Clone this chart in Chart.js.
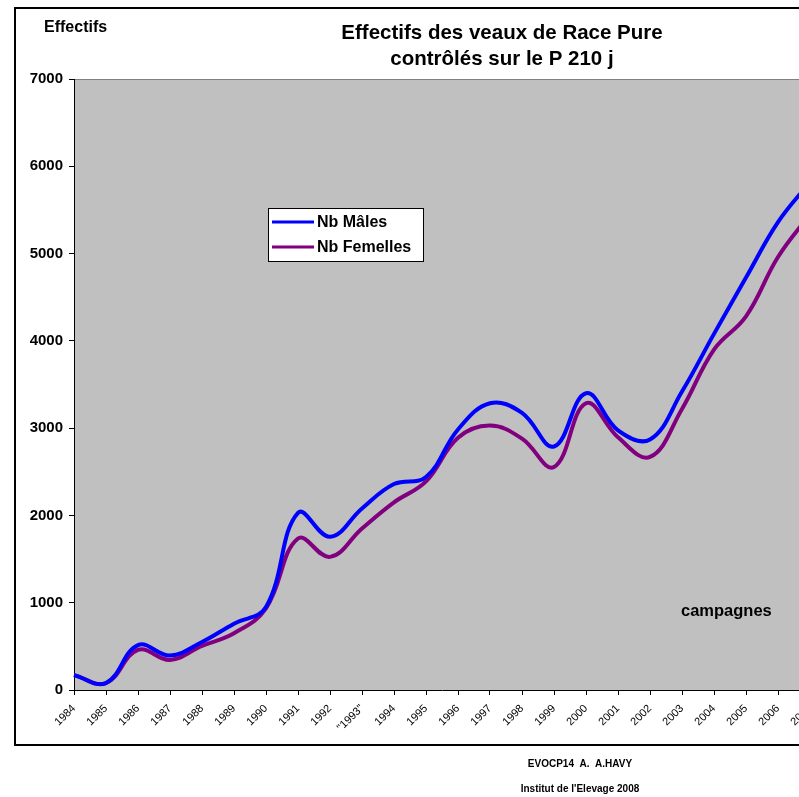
<!DOCTYPE html>
<html>
<head>
<meta charset="utf-8">
<script src="https://cdn.jsdelivr.net/npm/chart.js@4"></script>
<style>
    html, body { margin: 0; padding: 0; background: #fff; overflow: hidden; }
    #wrap { position: absolute; left: 0; top: 0; width: 830px; height: 797px; }
</style>
</head>
<body>
<div id="wrap"><canvas id="myChart" width="830" height="797"></canvas></div>
<script>
// campagnes
var years = ['1984', '1985', '1986', '1987', '1988', '1989', '1990', '1991', '1992', '"1993"',
    '1994', '1995', '1996', '1997', '1998', '1999', '2000', '2001', '2002', '2003',
    '2004', '2005', '2006', '2007'];

// Nb Mâles
var males = [170, 80, 515, 395, 550, 760, 950, 2030, 1755, 2080,
    2360, 2440, 2985, 3285, 3175, 2790, 3400, 2975, 2870, 3420,
    4080, 4725, 5360, 5820];

// Nb Femelles
var females = [170, 80, 460, 345, 505, 650, 935, 1735, 1525, 1850,
    2150, 2390, 2890, 3030, 2880, 2555, 3285, 2895, 2670, 3220,
    3900, 4280, 4960, 5450];

var yTicks = [0, 1000, 2000, 3000, 4000, 5000, 6000, 7000];

var fontName = '"Liberation Sans", Arial, sans-serif';

// background, border, texts and legend box
var decorPlugin = {
    id: 'decor',
    beforeDraw: function (chart) {
        var c = chart.ctx;
        var a = chart.chartArea;
        c.save();
        c.fillStyle = '#c0c0c0';
        c.fillRect(a.left, a.top, a.right - a.left, a.bottom - a.top);
        c.strokeStyle = '#808080';
        c.lineWidth = 1;
        c.beginPath();
        c.moveTo(a.left, a.top + 0.5);
        c.lineTo(a.right, a.top + 0.5);
        c.stroke();
        c.restore();
    },
    afterDraw: function (chart) {
        var c = chart.ctx;
        c.save();
        // outer frame
        c.strokeStyle = '#000';
        c.lineWidth = 2;
        c.strokeRect(15, 8, 900, 737);

        c.fillStyle = '#000';
        c.textBaseline = 'middle';
        c.textAlign = 'left';
        c.font = 'bold 16px ' + fontName;
        c.fillText('Effectifs', 44, 28);

        c.textAlign = 'center';
        c.font = 'bold 20.5px ' + fontName;
        c.fillText('Effectifs des veaux de Race Pure', 502, 33);
        c.fillText('contrôlés sur le P 210 j', 502, 59);

        c.font = 'bold 16.5px ' + fontName;
        c.textAlign = 'left';
        c.fillText('campagnes', 681, 611);

        c.textAlign = 'center';
        c.font = 'bold 10px ' + fontName;
        c.fillText('EVOCP14  A.  A.HAVY', 580, 764);
        c.fillText("Institut de l'Elevage 2008", 580, 789);

        // legend
        c.fillStyle = '#fff';
        c.fillRect(268, 208, 155, 53);
        c.strokeStyle = '#000';
        c.lineWidth = 1;
        c.strokeRect(268.5, 208.5, 155, 53);
        c.font = 'bold 16px ' + fontName;
        c.textAlign = 'left';
        chart.data.datasets.forEach(function (ds, i) {
            var y = 222 + i * 25;
            c.strokeStyle = ds.borderColor;
            c.lineWidth = 3;
            c.beginPath();
            c.moveTo(272, y);
            c.lineTo(314, y);
            c.stroke();
            c.fillStyle = '#000';
            c.fillText(ds.label, 317, y + 1);
        });
        c.restore();
    }
};

var ctx = document.getElementById('myChart').getContext('2d');

var myChart = new Chart(ctx, {
    type: 'line',
    data: {
        labels: years,
        datasets: [{
            label: 'Nb Mâles',
            data: males,
            borderColor: '#0000ff',
            borderWidth: 4,
            pointRadius: 0,
            tension: 0.4,
            fill: false
        }, {
            label: 'Nb Femelles',
            data: females,
            borderColor: '#800080',
            borderWidth: 4,
            pointRadius: 0,
            tension: 0.4,
            fill: false
        }]
    },
    options: {
        responsive: false,
        animation: false,
        events: [],
        layout: {
            padding: { left: 0, top: 79, right: 20, bottom: 0 }
        },
        plugins: {
            legend: { display: false },
            title: { display: false },
            tooltip: { enabled: false }
        },
        scales: {
            x: {
                grid: {
                    display: true,
                    drawOnChartArea: false,
                    drawTicks: true,
                    tickLength: 5,
                    color: '#000'
                },
                border: { color: '#000', width: 1 },
                ticks: {
                    autoSkip: false,
                    minRotation: 45,
                    maxRotation: 45,
                    padding: 7,
                    color: '#000',
                    font: { family: fontName, size: 11 }
                },
                afterFit: function (scale) { scale.height = 107; }
            },
            y: {
                min: 0,
                max: 7000,
                afterBuildTicks: function (scale) {
                    scale.ticks = yTicks.map(function (v) { return { value: v }; });
                },
                grid: {
                    display: true,
                    drawOnChartArea: false,
                    drawTicks: true,
                    tickLength: 5,
                    color: '#000'
                },
                border: { color: '#000', width: 1 },
                ticks: {
                    padding: 6,
                    color: '#000',
                    font: { family: fontName, size: 15, weight: 'bold' },
                    callback: function (v) { return String(v); }
                },
                afterFit: function (scale) { scale.width = 74; }
            }
        }
    },
    plugins: [decorPlugin]
});
</script>
</body>
</html>
